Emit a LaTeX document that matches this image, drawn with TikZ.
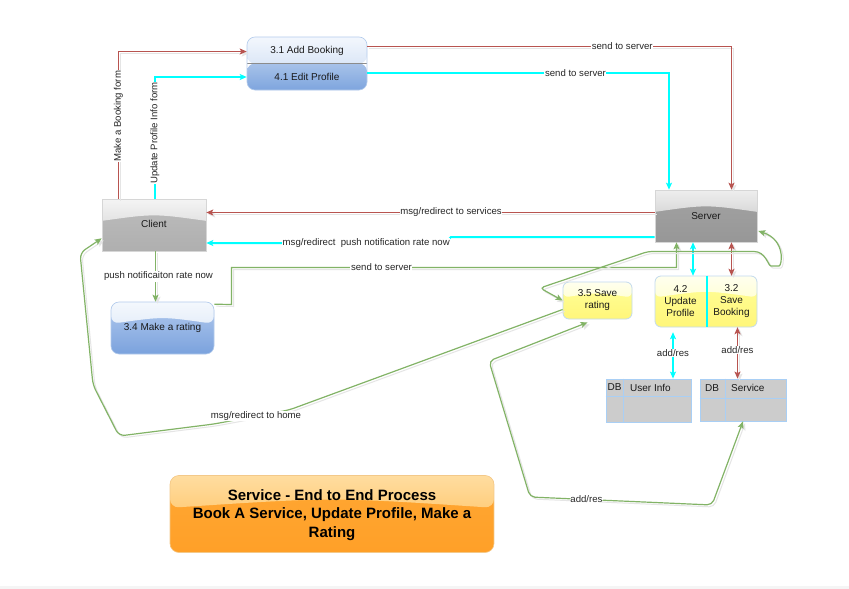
\documentclass[tikz,border=0pt]{standalone}
\usepackage{fontspec}
\setmainfont{Liberation Sans}
\usetikzlibrary{arrows.meta,calc}
\definecolor{cred}{HTML}{B85450}
\definecolor{ccyan}{HTML}{00FFFF}
\definecolor{cgreen}{HTML}{82B366}
\definecolor{blueEdge}{HTML}{B3CBEC}
\definecolor{tbA}{HTML}{F3F7FD}
\definecolor{tbB}{HTML}{C5D7F1}
\definecolor{tbC}{HTML}{A7C2E9}
\definecolor{tbD}{HTML}{7EA5DE}
\definecolor{blB1}{HTML}{B2CAEE}
\definecolor{blB2}{HTML}{7BA2DD}
\definecolor{blG1}{HTML}{F4F8FD}
\definecolor{blG2}{HTML}{D3E1F5}
\definecolor{grEdge}{HTML}{D6D6D6}
\definecolor{clB1}{HTML}{BDBDBD}
\definecolor{clB2}{HTML}{AFAFAF}
\definecolor{clG1}{HTML}{F4F4F4}
\definecolor{clG2}{HTML}{CDCDCD}
\definecolor{svB1}{HTML}{A3A3A3}
\definecolor{svB2}{HTML}{979797}
\definecolor{svG1}{HTML}{EEEEEE}
\definecolor{svG2}{HTML}{BDBDBD}
\definecolor{ylEdge}{HTML}{C3DAF0}
\definecolor{ylB1}{HTML}{FFFF99}
\definecolor{ylB2}{HTML}{FFF67A}
\definecolor{ylG1}{HTML}{FFFFEE}
\definecolor{ylG2}{HTML}{FFFFB8}
\definecolor{orEdge}{HTML}{F3C98A}
\definecolor{orB1}{HTML}{FFA733}
\definecolor{orB2}{HTML}{FFA028}
\definecolor{orG1}{HTML}{FFDDA0}
\definecolor{orG2}{HTML}{FFB94F}
\definecolor{dbFill}{HTML}{CCCCCC}
\definecolor{dbEdge}{HTML}{A9CFF5}
\tikzset{
  tips/.style={>={Stealth[length=7pt,width=6pt,inset=1.5pt]}},
  conn/.style={tips, line width=1.2pt,
    preaction={draw=black!10, line width=1pt, transform canvas={shift={(2pt,-2pt)}}}},
  cyanconn/.style={tips, draw=ccyan, line width=2pt},
  lbl/.style={fill=white, inner sep=0.6pt, text=black!85, font=\fontsize{9.6}{11}\selectfont},
  glossy/.style 2 args={path picture={
    \shade[top color=#1, bottom color=#2]
      (path picture bounding box.north west) -- (path picture bounding box.north east)
      -- ($(path picture bounding box.north east)!0.42!(path picture bounding box.south east)$)
      .. controls ($(path picture bounding box.north)!0.28!(path picture bounding box.south)$) ..
      ($(path picture bounding box.north west)!0.42!(path picture bounding box.south west)$) -- cycle;}},
  txt/.style={inner sep=0pt, align=center, text=black!90, font=\fontsize{10}{12}\selectfont},
  graybox/.style={draw=grEdge, line width=0.6pt, minimum width=103pt, minimum height=52pt},
  bluebox/.style={draw=blueEdge, line width=0.6pt, rounded corners=8pt, top color=blB1, bottom color=blB2, glossy={blG1}{blG2}},
  yelbox/.style={draw=ylEdge, line width=0.8pt, rounded corners=6pt, top color=ylB1, bottom color=ylB2, glossy={ylG1}{ylG2}},
  dbbox/.style={draw=dbEdge, line width=0.8pt, fill=dbFill},
  dbline/.style={draw=dbEdge, line width=0.8pt},
  dbtxt/.style={inner sep=0pt, text=black!90, font=\fontsize{10}{12}\selectfont}
}
\begin{document}
\begin{tikzpicture}[x=1pt,y=-1pt]
\useasboundingbox (0,0) rectangle (849,589);
\fill[white] (0,0) rectangle (849,589);
\fill[black!4] (0,586) rectangle (849,589);

% ---- boxes ----
\node[draw=blueEdge, line width=0.6pt, rounded corners=8pt, minimum width=120pt, minimum height=53pt, inner sep=0pt,
  path picture={
    \shade[top color=tbA, bottom color=tbB] (path picture bounding box.north west) rectangle (path picture bounding box.east);
    \shade[top color=tbC, bottom color=tbD] (path picture bounding box.west) rectangle (path picture bounding box.south east);
    \draw[black!45, line width=0.8pt] (path picture bounding box.west) -- (path picture bounding box.east);
  }] (procbox) at (307,63.5) {};
\node[txt, minimum width=120pt, minimum height=26pt] (addb) at (307,50.5) {3.1 Add Booking};
\node[txt, minimum width=120pt, minimum height=26pt] (editp) at (307,76.5) {4.1 Edit Profile};

\node[graybox, minimum width=104pt, top color=clB1, bottom color=clB2, glossy={clG1}{clG2}] (client) at (154,225) {};
\node[txt] (clienttxt) at (154,224) {Client};

\node[graybox, minimum width=102pt, top color=svB1, bottom color=svB2, glossy={svG1}{svG2}] (server) at (706,216) {};
\node[txt] (servertxt) at (706,216) {Server};

\node[bluebox, minimum width=103pt, minimum height=52pt] (m34) at (162.5,328) {};
\node[txt] (m34txt) at (162.5,328) {3.4 Make a rating};

\node[yelbox, minimum width=69pt, minimum height=37pt] (sr) at (597.5,300.5) {};
\node[txt] (srtxt) at (597.5,300) {3.5 Save\\rating};

\node[yelbox, minimum width=102pt, minimum height=51pt] (ubox) at (706,301.5) {};
\draw[ccyan, line width=1.5pt] (ubox.north -| 707,0) -- (ubox.south -| 707,0);
\node[txt, minimum width=51pt, minimum height=51pt] (upd) at (680.5,301.5) {4.2\\Update\\Profile};
\node[txt, minimum width=51pt, minimum height=51pt] (saveb) at (731.5,301.5) {3.2\\Save\\Booking};

\node[dbbox, minimum width=85pt, minimum height=43pt] (dbu) at (648.5,400.5) {};
\draw[dbline] (dbu.west |- 0,396) -- (dbu.east |- 0,396);
\draw[dbline] (623,0 |- dbu.north) -- (623,0 |- dbu.south);
\node[dbtxt] (dbu1) at (614.5,387.5) {DB};
\node[dbtxt, anchor=west] (dbu2) at (630,387.5) {User Info};

\node[dbbox, minimum width=86pt, minimum height=42pt] (dbs) at (743,400) {};
\draw[dbline] (dbs.west |- 0,398) -- (dbs.east |- 0,398);
\draw[dbline] (725,0 |- dbs.north) -- (725,0 |- dbs.south);
\node[dbtxt] (dbs1) at (712,388) {DB};
\node[dbtxt, anchor=west] (dbs2) at (731,388) {Service};

\node[draw=orEdge, line width=0.6pt, rounded corners=9pt, minimum width=324pt, minimum height=77pt,
  top color=orB1, bottom color=orB2, glossy={orG1}{orG2}] (title) at (332,514) {};
\node[inner sep=0pt, align=center, font=\bfseries\fontsize{15}{18.5}\selectfont] (titletxt) at (332,515)
  {Service - End to End Process\\Book A Service, Update Profile, Make a\\Rating};

% ---- connectors ----
\draw[conn, cred, ->] (client.north -| 118.5,0) -- node[lbl, rotate=90, pos=0.56] (lb1) {Make a Booking form}
  (118.5,51.5) -- (procbox.west |- 0,51.5);
\draw[cyanconn, ->] (client.north -| 155,0) -- node[lbl, rotate=90, pos=0.54] (lb2) {Update Profile Info form}
  (155,77) -- (procbox.west |- 0,77);

\draw[conn, cred, ->] (procbox.east |- 0,46.5) -- node[lbl, pos=0.70] (lb3) {send to server}
  (731.5,46.5) -- (server.north -| 731.5,0);
\draw[cyanconn, ->] (procbox.east |- 0,73) -- node[lbl, pos=0.69] (lb4) {send to server}
  (669,73) -- (server.north -| 669,0);

\draw[conn, cred, ->] (server.west |- 0,212.5) -- node[lbl, pos=0.454] (lb5) {msg/redirect to services} (client.east |- 0,212.5);
\draw[cyanconn, ->] (server.west |- 0,237) -- (451,237) -- (445,243) --
  node[lbl, pos=0.33] (lb6) {msg/redirect~ push notification rate now} (client.east |- 0,243);

\draw[conn, cgreen, ->] (client.south -| 155.5,0) -- node[lbl, xshift=3pt] (lb7) {push notificaiton rate now} (m34.north -| 155.5,0);

\draw[conn, cgreen, ->] ($(m34.north east)+(0,2.5)$) -- (231.5,304.5) -- (231.5,267.5) --
  node[lbl, pos=0.337] (lb8) {send to server} (676.5,267.5) -- (server.south -| 676.5,0);

\draw[cyanconn, <->] (server.south -| 693,0) -- (upd.north -| 693,0);
\draw[conn, cred, <->] (server.south -| 731.5,0) -- (saveb.north -| 731.5,0);

\draw[cyanconn, <->, shorten <=5pt] (upd.south -| 673,0) -- node[lbl] (lb9) {add/res} (dbu.north -| 673,0);
\draw[conn, cred, <->] (saveb.south -| 737.5,0) -- node[lbl, pos=0.45] (lb10) {add/res} (dbs.north -| 737.5,0);

\draw[conn, cgreen, <->, rounded corners=4pt] (sr.west) -- (540,288) -- (648,251.5) -- (750,251.5)
  .. controls (766,251.5) and (768,266) .. (775,266)
  .. controls (782,266) and (786,240) .. ($(server.east)+(1,15)$);

\draw[conn, cgreen, ->, rounded corners=6pt] ($(sr.west)+(0,9)$) -- (289,410) --
  node[lbl, pos=0.44] (lb11) {msg/redirect to home} (214,424) -- (119,436) -- (93,385) -- (80,253) --
  ($(client.south west)+(0,-13)$);

\draw[conn, cgreen, <->, rounded corners=5pt] ($(sr.south west)+(25,3)$) -- (489,361) -- (530,497) --
  node[lbl, pos=0.31] (lb12) {add/res} (712,505) -- (dbs.south);
\end{tikzpicture}
\end{document}
